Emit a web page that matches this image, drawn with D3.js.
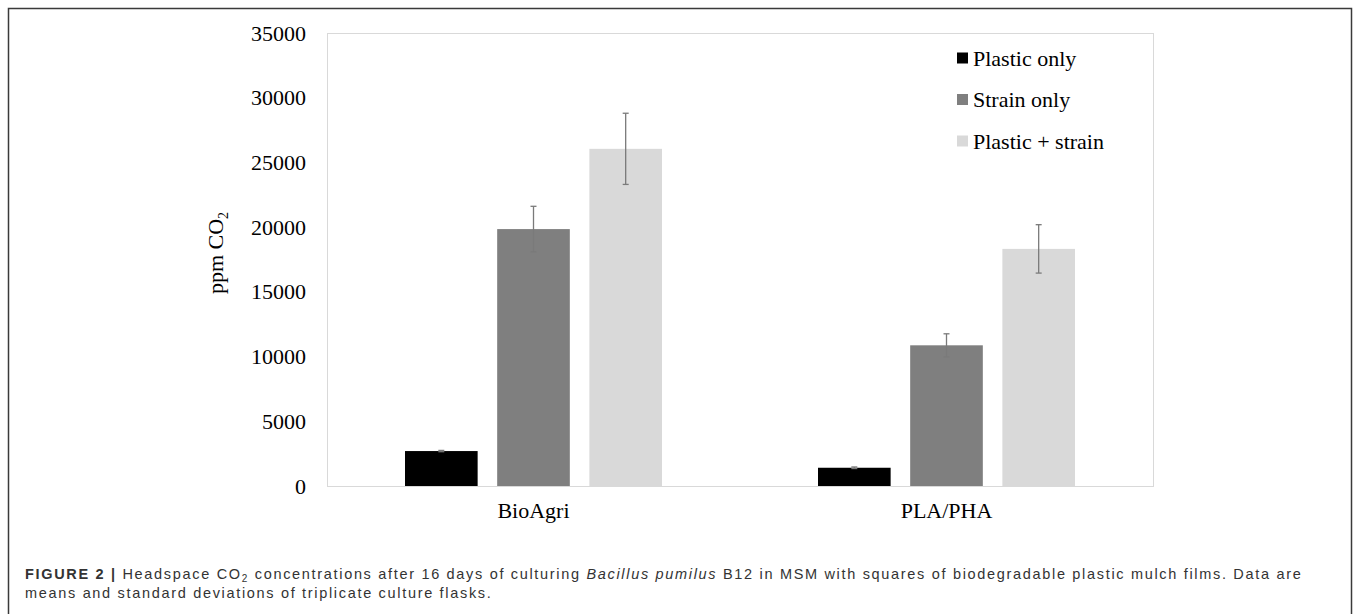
<!DOCTYPE html>
<html>
<head>
<meta charset="utf-8">
<script src="https://cdn.jsdelivr.net/npm/d3@7"></script>
<style>
  body { margin: 0; background: #fff; }
  svg { display: block; }
</style>
</head>
<body>
<svg width="1358" height="614"></svg>
<script>
  // data
  const categories = ["BioAgri", "PLA/PHA"];
  const series = ["Plastic only", "Strain only", "Plastic + strain"];
  const means = [
    [2700, 19850, 26050],
    [1410, 10870, 18320]
  ];
  const sds = [
    [50, 1760, 2750],
    [60, 890, 1870]
  ];
  const yTicks = [0, 5000, 10000, 15000, 20000, 25000, 30000, 35000];
  const colors = ["#000000", "#7f7f7f", "#d9d9d9"];

  const plot = { left: 327, right: 1153, top: 33, bottom: 486 };
  const serif = "'Liberation Serif', 'Times New Roman', serif";
  const fs = 22;

  const svg = d3.select("svg");

  // outer frame
  svg.append("rect")
    .attr("x", 8.5).attr("y", 8.5)
    .attr("width", 1343).attr("height", 620)
    .attr("fill", "none")
    .attr("stroke", "#3a3a3a")
    .attr("stroke-width", 1.5);

  // scales
  const x0 = d3.scaleBand()
    .domain(categories)
    .range([plot.left, plot.right]);
  const x1 = d3.scaleBand()
    .domain(series)
    .range([78, x0.bandwidth() - 78])
    .paddingInner(0.212);
  const y = d3.scaleLinear()
    .domain([0, 35000])
    .range([plot.bottom, plot.top]);

  // plot area border
  svg.append("rect")
    .attr("x", plot.left + 0.5).attr("y", plot.top + 0.5)
    .attr("width", plot.right - plot.left).attr("height", plot.bottom - plot.top)
    .attr("fill", "none")
    .attr("stroke", "#d9d9d9")
    .attr("stroke-width", 1);

  // bars
  const rows = [];
  categories.forEach((c, i) => {
    series.forEach((s, j) => {
      rows.push({ cat: c, ser: s, j: j, v: means[i][j], sd: sds[i][j] });
    });
  });

  const g = svg.append("g");
  g.selectAll("rect.bar")
    .data(rows)
    .enter()
    .append("rect")
    .attr("class", "bar")
    .attr("x", d => x0(d.cat) + x1(d.ser))
    .attr("y", d => y(d.v))
    .attr("width", x1.bandwidth())
    .attr("height", d => y(0) - y(d.v))
    .attr("fill", d => colors[d.j]);

  // error bars
  const err = g.selectAll("g.err")
    .data(rows)
    .enter()
    .append("g")
    .attr("class", "err")
    .attr("stroke", "#7a7a7a")
    .attr("stroke-width", 1.3);
  const cx = d => x0(d.cat) + x1(d.ser) + x1.bandwidth() / 2;
  err.append("line")
    .attr("x1", cx).attr("x2", cx)
    .attr("y1", d => y(d.v + d.sd)).attr("y2", d => y(d.v - d.sd));
  err.append("line")
    .attr("x1", d => cx(d) - 3).attr("x2", d => cx(d) + 3)
    .attr("y1", d => y(d.v + d.sd)).attr("y2", d => y(d.v + d.sd));
  err.append("line")
    .attr("x1", d => cx(d) - 3).attr("x2", d => cx(d) + 3)
    .attr("y1", d => y(d.v - d.sd)).attr("y2", d => y(d.v - d.sd));

  // y axis
  const yAxis = d3.axisLeft(y).tickValues(yTicks).tickSize(0).tickPadding(21)
    .tickFormat(d3.format("d"));
  const ya = svg.append("g")
    .attr("transform", `translate(${plot.left}, 0)`)
    .call(yAxis);
  ya.select(".domain").remove();
  ya.selectAll("text")
    .attr("font-family", serif)
    .attr("font-size", fs)
    .attr("fill", "#000");

  // x axis
  const xAxis = d3.axisBottom(x0).tickSize(0).tickPadding(16);
  const xa = svg.append("g")
    .attr("transform", `translate(0, ${plot.bottom})`)
    .call(xAxis);
  xa.select(".domain").remove();
  xa.selectAll("text")
    .attr("font-family", serif)
    .attr("font-size", fs)
    .attr("fill", "#000");

  // y axis title
  const yt = svg.append("text")
    .attr("transform", "translate(223, 253) rotate(-90)")
    .attr("text-anchor", "middle")
    .attr("font-family", serif)
    .attr("font-size", fs)
    .attr("fill", "#000");
  yt.append("tspan").text("ppm CO");
  yt.append("tspan").attr("font-size", 14).attr("dy", 5).text("2");

  // legend
  const legend = svg.append("g")
    .selectAll("g")
    .data(series)
    .enter()
    .append("g")
    .attr("transform", (d, i) => `translate(957, ${58 + i * 41.5})`);
  legend.append("rect")
    .attr("x", 0).attr("y", -5.5)
    .attr("width", 11).attr("height", 11)
    .attr("fill", (d, i) => colors[i]);
  legend.append("text")
    .attr("x", 16)
    .attr("dy", "0.35em")
    .attr("font-family", serif)
    .attr("font-size", fs)
    .attr("fill", "#000")
    .text(d => d);

  // caption
  const cap = svg.append("g")
    .attr("font-family", "'Liberation Sans', Arial, sans-serif")
    .attr("font-size", 14.5)
    .attr("fill", "#333");
  const l1 = cap.append("text").attr("x", 25).attr("y", 579);
  l1.append("tspan").attr("font-weight", "bold").text("FIGURE 2 | ");
  l1.append("tspan").text("Headspace CO");
  l1.append("tspan").attr("font-size", 10).attr("dy", 3).text("2");
  l1.append("tspan").attr("dy", -3).text(" concentrations after 16 days of culturing ");
  l1.append("tspan").attr("font-style", "italic").text("Bacillus pumilus");
  l1.append("tspan").text(" B12 in MSM with squares of biodegradable plastic mulch films. Data are");
  const l2 = cap.append("text").attr("x", 25).attr("y", 598)
    .text("means and standard deviations of triplicate culture flasks.");

  // the caption in the figure is set wider than the font; spread letters to fit
  const n1 = l1.text().length;
  const spacing = (1277 - l1.node().getComputedTextLength()) / n1;
  cap.attr("letter-spacing", spacing.toFixed(2));
</script>
</body>
</html>
